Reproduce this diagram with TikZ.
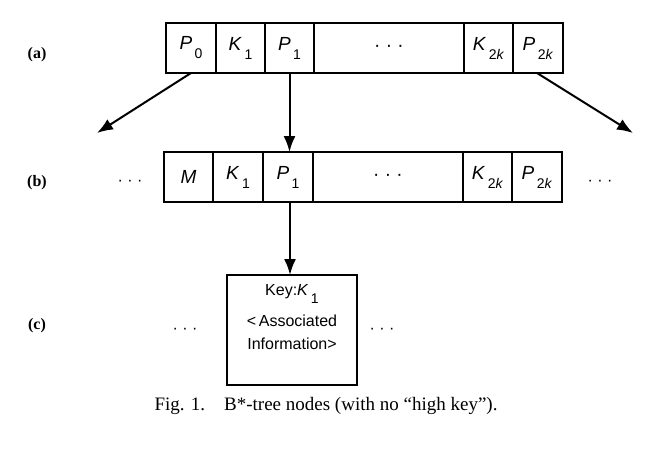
\documentclass[tikz,border=0pt]{standalone}
\usepackage{fontspec}
\setmainfont{Liberation Serif}
\newfontfamily\boxfont{Liberation Sans}
\usetikzlibrary{arrows.meta}
\newcommand{\cellsub}[2]{\textit{#1}\kern2.5pt\raisebox{-0.9ex}{\fontsize{14}{14}\selectfont #2}}
\begin{document}
\begin{tikzpicture}[x=1pt,y=-1pt,
  cell/.style={draw, line width=1.8pt, minimum height=50pt, inner sep=0pt, outer sep=0pt,
    font=\boxfont\fontsize{19}{19}\selectfont},
  bigbox/.style={draw, line width=1.8pt, inner sep=0pt, outer sep=0pt},
  boxtext/.style={font=\boxfont\fontsize{16}{16}\selectfont, inner sep=0pt},
  dotsn/.style={font=\boxfont\fontsize{16}{16}\selectfont, inner sep=0pt},
  arr/.style={line width=2pt, -{Latex[length=16pt,width=12pt]}},
  lab/.style={font=\bfseries\fontsize{16}{16}\selectfont, inner sep=0pt},
  captext/.style={font=\fontsize{19}{19}\selectfont, inner sep=0pt}]
\useasboundingbox (0,0) rectangle (647,455);
% row (a)
\node[cell, minimum width=50pt] (a0) at (191,48) {\cellsub{P}{0}};
\node[cell, minimum width=49pt] (a1) at (240.5,48) {\cellsub{K}{1}};
\node[cell, minimum width=49pt] (a2) at (289.5,48) {\cellsub{P}{1}};
\node[cell, minimum width=150pt] (a3) at (389,48) {· · ·};
\node[cell, minimum width=49pt] (a4) at (488.5,48) {\cellsub{K}{2\textit{k}}};
\node[cell, minimum width=50pt] (a5) at (538,48) {\cellsub{P}{2\textit{k}}};
% row (b)
\node[cell, minimum width=49pt] (b0) at (188.5,177) {\textit{M}};
\node[cell, minimum width=50pt] (b1) at (238,177) {\cellsub{K}{1}};
\node[cell, minimum width=50pt] (b2) at (288,177) {\cellsub{P}{1}};
\node[cell, minimum width=150pt] (b3) at (388,177) {· · ·};
\node[cell, minimum width=49pt] (b4) at (487.5,177) {\cellsub{K}{2\textit{k}}};
\node[cell, minimum width=50pt] (b5) at (537,177) {\cellsub{P}{2\textit{k}}};
\node[dotsn] (bl) at (130,183) {· · ·};
\node[dotsn] (br) at (600,183) {· · ·};
% row (c)
\node[bigbox, minimum width=130pt, minimum height=110pt] (c) at (292,330) {};
\node[boxtext] (ck) at (292,294) {Key:\cellsub{K}{1}};
\node[boxtext] (ca) at (292,321) {<\,Associated};
\node[boxtext] (ci) at (292,344) {Information>};
\node[dotsn] (cl) at (185,331) {· · ·};
\node[dotsn] (cr) at (382,331) {· · ·};
% labels
\node[lab] (la) at (37,55) {(a)};
\node[lab] (lb) at (37,183) {(b)};
\node[lab] (lc) at (37,326) {(c)};
\node[captext] (caption) at (326,406) {Fig. 1.\quad B*-tree nodes (with no “high key”).};
% arrows
\coordinate (lend) at (97,133);
\coordinate (rend) at (633,133);
\draw[arr] (a0.south) -- (lend);
\draw[arr] ([xshift=-1pt]a5.south) -- (rend);
\draw[arr] (a2.south) -- (a2.south |- b2.north);
\draw[arr] ([xshift=2pt]b2.south) -- ([xshift=2pt]b2.south |- c.north);
\end{tikzpicture}
\end{document}
